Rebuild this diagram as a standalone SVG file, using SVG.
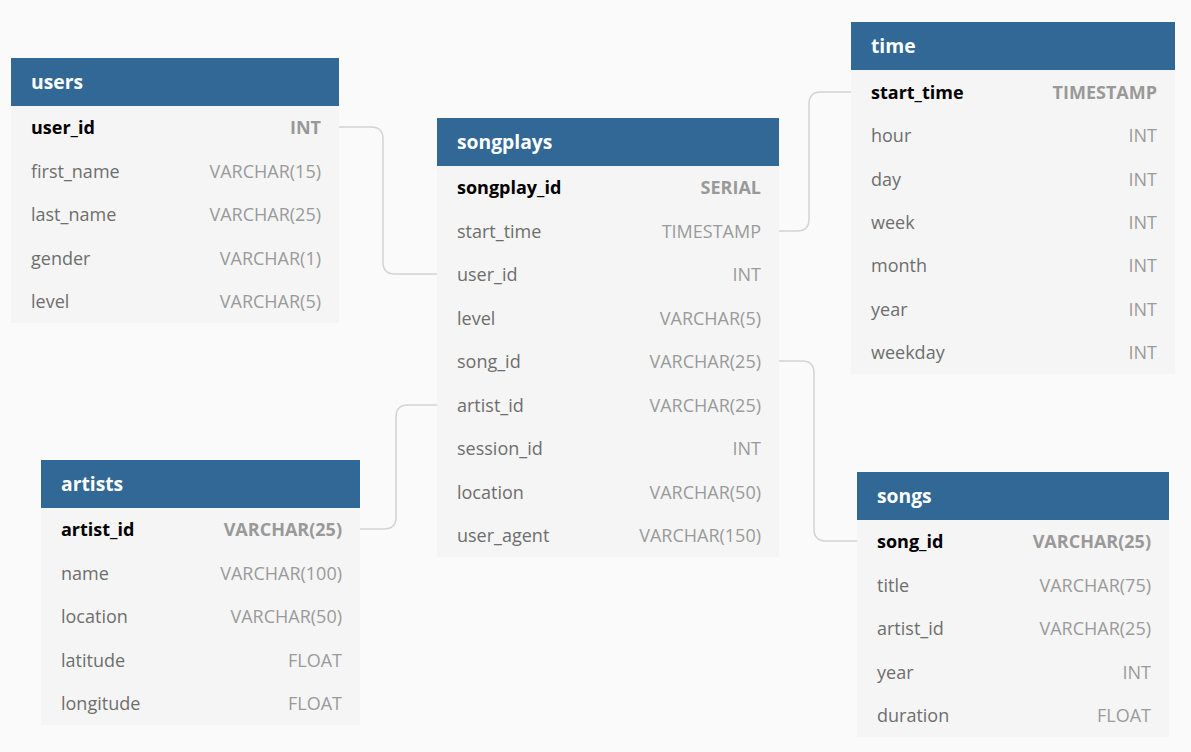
<svg xmlns="http://www.w3.org/2000/svg" width="1191" height="752" viewBox="0 0 1191 752">
<style>
.bg{fill:#fafafa}
.hd{fill:#316896}
.bd{fill:#f5f5f5}
.ht{font-family:"Open Sans",sans-serif;font-weight:bold;font-size:19.3px;fill:#ffffff}
.pk{font-family:"Open Sans",sans-serif;font-weight:bold;font-size:18px;fill:#000000}
.pt{font-family:"Open Sans",sans-serif;font-weight:bold;font-size:18px;fill:#999999;text-anchor:end}
.fn{font-family:"Open Sans",sans-serif;font-size:18px;fill:#6e6e6e}
.ft{font-family:"Open Sans",sans-serif;font-size:18px;fill:#9a9a9a;text-anchor:end}
.cn{fill:none;stroke:#d3d3d3;stroke-width:1.5}
</style>
<rect class="bg" x="0" y="0" width="1191" height="752"/>
<g id="connectors">
<path class="cn" d="M339,127 H371 Q383,127 383,139 V262 Q383,274 395,274 H437"/>
<path class="cn" d="M779,231 H797 Q809,231 809,219 V104 Q809,92 821,92 H851"/>
<path class="cn" d="M779,361 H802 Q814,361 814,373 V529 Q814,541 826,541 H857"/>
<path class="cn" d="M437,405 H408 Q396,405 396,417 V517 Q396,529 384,529 H360"/>
</g>
<g id="users">
<rect class="bd" x="11" y="106" width="328" height="217"/>
<rect class="hd" x="11" y="58" width="328" height="48"/>
<text class="ht" x="31" y="89">users</text>
<text class="pk" x="31" y="134">user_id</text><text class="pt" x="321" y="134">INT</text>
<text class="fn" x="31" y="178">first_name</text><text class="ft" x="321" y="178">VARCHAR(15)</text>
<text class="fn" x="31" y="221">last_name</text><text class="ft" x="321" y="221">VARCHAR(25)</text>
<text class="fn" x="31" y="265">gender</text><text class="ft" x="321" y="265">VARCHAR(1)</text>
<text class="fn" x="31" y="308">level</text><text class="ft" x="321" y="308">VARCHAR(5)</text>
</g>
<g id="songplays">
<rect class="bd" x="437" y="166" width="342" height="391"/>
<rect class="hd" x="437" y="118" width="342" height="48"/>
<text class="ht" x="457" y="149">songplays</text>
<text class="pk" x="457" y="194">songplay_id</text><text class="pt" x="761" y="194">SERIAL</text>
<text class="fn" x="457" y="238">start_time</text><text class="ft" x="761" y="238">TIMESTAMP</text>
<text class="fn" x="457" y="281">user_id</text><text class="ft" x="761" y="281">INT</text>
<text class="fn" x="457" y="325">level</text><text class="ft" x="761" y="325">VARCHAR(5)</text>
<text class="fn" x="457" y="368">song_id</text><text class="ft" x="761" y="368">VARCHAR(25)</text>
<text class="fn" x="457" y="412">artist_id</text><text class="ft" x="761" y="412">VARCHAR(25)</text>
<text class="fn" x="457" y="455">session_id</text><text class="ft" x="761" y="455">INT</text>
<text class="fn" x="457" y="499">location</text><text class="ft" x="761" y="499">VARCHAR(50)</text>
<text class="fn" x="457" y="542">user_agent</text><text class="ft" x="761" y="542">VARCHAR(150)</text>
</g>
<g id="time">
<rect class="bd" x="851" y="70" width="324" height="304"/>
<rect class="hd" x="851" y="22" width="324" height="48"/>
<text class="ht" x="871" y="53">time</text>
<text class="pk" x="871" y="99">start_time</text><text class="pt" x="1157" y="99">TIMESTAMP</text>
<text class="fn" x="871" y="142">hour</text><text class="ft" x="1157" y="142">INT</text>
<text class="fn" x="871" y="186">day</text><text class="ft" x="1157" y="186">INT</text>
<text class="fn" x="871" y="229">week</text><text class="ft" x="1157" y="229">INT</text>
<text class="fn" x="871" y="272">month</text><text class="ft" x="1157" y="272">INT</text>
<text class="fn" x="871" y="316">year</text><text class="ft" x="1157" y="316">INT</text>
<text class="fn" x="871" y="359">weekday</text><text class="ft" x="1157" y="359">INT</text>
</g>
<g id="artists">
<rect class="bd" x="41" y="508" width="319" height="217"/>
<rect class="hd" x="41" y="460" width="319" height="48"/>
<text class="ht" x="61" y="491">artists</text>
<text class="pk" x="61" y="536">artist_id</text><text class="pt" x="342" y="536">VARCHAR(25)</text>
<text class="fn" x="61" y="580">name</text><text class="ft" x="342" y="580">VARCHAR(100)</text>
<text class="fn" x="61" y="623">location</text><text class="ft" x="342" y="623">VARCHAR(50)</text>
<text class="fn" x="61" y="667">latitude</text><text class="ft" x="342" y="667">FLOAT</text>
<text class="fn" x="61" y="710">longitude</text><text class="ft" x="342" y="710">FLOAT</text>
</g>
<g id="songs">
<rect class="bd" x="857" y="520" width="312" height="217"/>
<rect class="hd" x="857" y="472" width="312" height="48"/>
<text class="ht" x="877" y="503">songs</text>
<text class="pk" x="877" y="548">song_id</text><text class="pt" x="1151" y="548">VARCHAR(25)</text>
<text class="fn" x="877" y="592">title</text><text class="ft" x="1151" y="592">VARCHAR(75)</text>
<text class="fn" x="877" y="635">artist_id</text><text class="ft" x="1151" y="635">VARCHAR(25)</text>
<text class="fn" x="877" y="679">year</text><text class="ft" x="1151" y="679">INT</text>
<text class="fn" x="877" y="722">duration</text><text class="ft" x="1151" y="722">FLOAT</text>
</g>
</svg>
